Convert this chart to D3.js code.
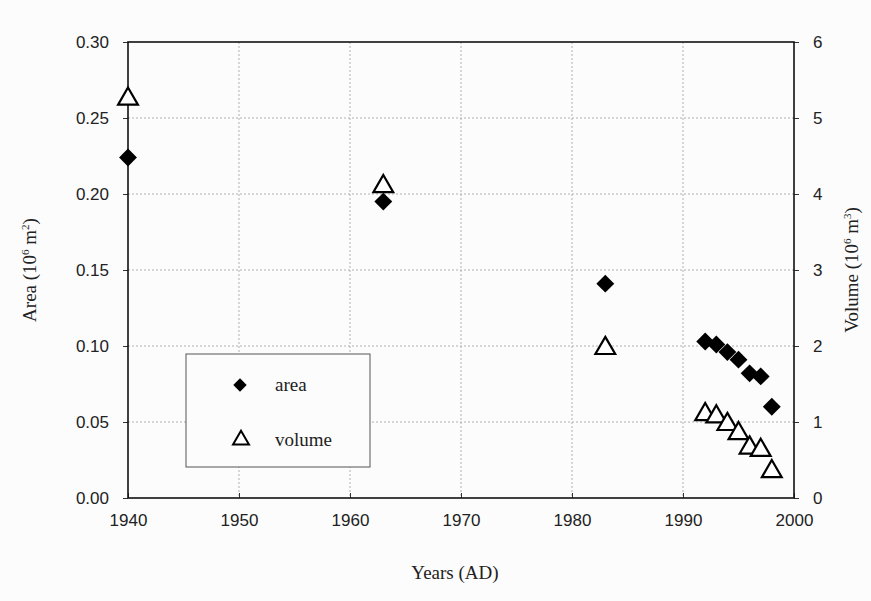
<!DOCTYPE html>
<html><head><meta charset="utf-8">
<script src="https://cdn.jsdelivr.net/npm/d3@7"></script>
<style>body{margin:0;background:#fcfcfc}svg{display:block}</style>
</head><body>
<svg id="c" width="871" height="601"></svg>
<script>
const years = [1940, 1963, 1983, 1992, 1993, 1994, 1995, 1996, 1997, 1998];
const area = [0.224, 0.195, 0.141, 0.103, 0.101, 0.096, 0.091, 0.082, 0.080, 0.060];
const volume = [5.25, 4.1, 1.97, 1.1, 1.07, 0.97, 0.85, 0.66, 0.63, 0.35];
const xTicks = [1940, 1950, 1960, 1970, 1980, 1990, 2000];
const areaTicks = [0, 0.05, 0.10, 0.15, 0.20, 0.25, 0.30];
const volTicks = [0, 1, 2, 3, 4, 5, 6];

const L = 128, R = 794, T = 42, B = 498;
const svg = d3.select("#c");
const x = d3.scaleLinear().domain([1940, 2000]).range([L, R]);
const yA = d3.scaleLinear().domain([0, 0.30]).range([B, T]);
const yV = d3.scaleLinear().domain([0, 6]).range([B, T]);

// grid
const g = svg.append("g");
g.selectAll(".vg").data(xTicks.slice(1, -1)).join("line")
  .attr("x1", d => x(d)).attr("x2", d => x(d)).attr("y1", T).attr("y2", B)
  .attr("stroke", "#b0b0b0").attr("stroke-width", 1).attr("stroke-dasharray", "2,2");
g.selectAll(".hg").data(areaTicks.slice(1, -1)).join("line")
  .attr("x1", L).attr("x2", R).attr("y1", d => yA(d)).attr("y2", d => yA(d))
  .attr("stroke", "#b0b0b0").attr("stroke-width", 1).attr("stroke-dasharray", "2,2");

// axes
const fontTick = "Liberation Sans, Arial, sans-serif";
const ax = svg.append("g").attr("transform", `translate(0,${B})`)
  .call(d3.axisBottom(x).tickValues(xTicks).tickFormat(d3.format("d")).tickSize(-5).tickPadding(16));
const al = svg.append("g").attr("transform", `translate(${L},0)`)
  .call(d3.axisLeft(yA).tickValues(areaTicks).tickFormat(d3.format(".2f")).tickSize(5).tickPadding(14));
const ar = svg.append("g").attr("transform", `translate(${R},0)`)
  .call(d3.axisRight(yV).tickValues(volTicks).tickFormat(d3.format("d")).tickSize(5).tickPadding(14));
[ax, al, ar].forEach(a => {
  a.select(".domain").remove();
  a.selectAll("line").attr("stroke", "#333");
  a.selectAll("text").attr("font-family", fontTick).attr("font-size", 17).attr("fill", "#222");
});
// frame
svg.append("rect").attr("x", L).attr("y", T).attr("width", R - L).attr("height", B - T)
  .attr("fill", "none").attr("stroke", "#111").attr("stroke-width", 1.6);

// markers
const diamond = d3.symbol().type(d3.symbolSquare).size(160);
const tri = d3.symbol().type(d3.symbolTriangle).size(170);
svg.selectAll(".vol").data(years).join("path")
  .attr("d", tri).attr("transform", (d, i) => `translate(${x(d)},${yV(volume[i])})`)
  .attr("fill", "#fff").attr("stroke", "#000").attr("stroke-width", 2.2);
svg.selectAll(".area").data(years).join("path")
  .attr("d", diamond).attr("transform", (d, i) => `translate(${x(d)},${yA(area[i])}) rotate(45)`)
  .attr("fill", "#000");

// legend
const serif = "Liberation Serif, Times New Roman, serif";
svg.append("rect").attr("x", 186).attr("y", 354).attr("width", 184).attr("height", 113)
  .attr("fill", "#fcfcfc").attr("stroke", "#555").attr("stroke-width", 1);
svg.append("path").attr("d", d3.symbol().type(d3.symbolSquare).size(90))
  .attr("transform", "translate(240,385) rotate(45)").attr("fill", "#000");
svg.append("path").attr("d", d3.symbol().type(d3.symbolTriangle).size(110))
  .attr("transform", "translate(241,440)").attr("fill", "#fff").attr("stroke", "#000").attr("stroke-width", 2);
svg.append("text").attr("x", 275).attr("y", 391).text("area")
  .attr("font-family", serif).attr("font-size", 19).attr("fill", "#222");
svg.append("text").attr("x", 275).attr("y", 446).text("volume")
  .attr("font-family", serif).attr("font-size", 19).attr("fill", "#222");

// axis titles
svg.append("text").attr("x", 455).attr("y", 579).attr("text-anchor", "middle")
  .attr("font-family", serif).attr("font-size", 19).attr("fill", "#222").text("Years (AD)");
const lt = svg.append("text").attr("transform", "translate(36,270) rotate(-90)").attr("text-anchor", "middle")
  .attr("font-family", serif).attr("font-size", 19).attr("fill", "#222");
lt.append("tspan").text("Area (10");
lt.append("tspan").attr("dy", -7).attr("font-size", 11).text("6");
lt.append("tspan").attr("dy", 7).text(" m");
lt.append("tspan").attr("dy", -7).attr("font-size", 11).text("2");
lt.append("tspan").attr("dy", 7).text(")");
const rt = svg.append("text").attr("transform", "translate(858,270) rotate(-90)").attr("text-anchor", "middle")
  .attr("font-family", serif).attr("font-size", 19).attr("fill", "#222");
rt.append("tspan").text("Volume (10");
rt.append("tspan").attr("dy", -7).attr("font-size", 11).text("6");
rt.append("tspan").attr("dy", 7).text(" m");
rt.append("tspan").attr("dy", -7).attr("font-size", 11).text("3");
rt.append("tspan").attr("dy", 7).text(")");
</script>
</body></html>
